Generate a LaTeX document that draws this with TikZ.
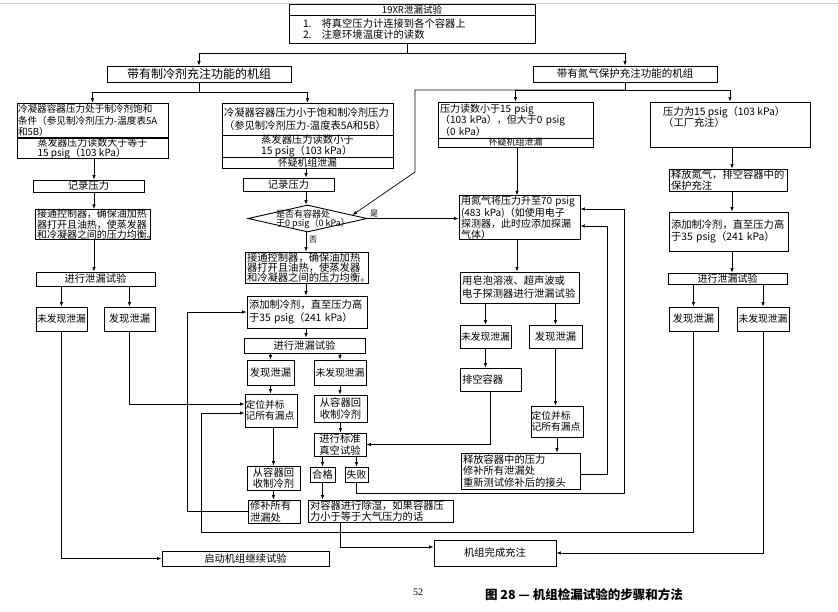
\documentclass[tikz,border=0pt]{standalone}
\usepackage{fontspec}
\setmainfont{Noto Sans CJK SC}
\newfontfamily\serifnum{Liberation Serif}
\usetikzlibrary{arrows.meta,shapes.geometric,calc}
\begin{document}
\begin{tikzpicture}[x=1pt,y=-1pt,
 bx/.style={draw, line width=0.9pt, inner xsep=2pt, inner ysep=0pt, align=center, font={\fontsize{10.3}{11.3}\selectfont}},
 lb/.style={bx, align=left},
 sm/.style={inner xsep=0.5pt, font={\fontsize{9.8}{11}\selectfont}},
 arr/.style={line width=0.7pt, -{Latex[length=4.5pt,width=3.5pt]}},
 ln/.style={line width=0.7pt},
 lab/.style={inner sep=0pt, font={\fontsize{8}{8}\selectfont}}]
\fill[white] (0,0) rectangle (838,611);
\useasboundingbox (0,0) rectangle (838,611);
\draw[gray!35, line width=0.6pt] (0,3) -- (838,3);

% chain x positions
\coordinate (cl) at (94,0);
\coordinate (cx) at (306,0);
\coordinate (cr) at (517,0);
\coordinate (cq) at (732,0);

% top
\node[bx, minimum width=246pt, minimum height=11pt, font={\fontsize{9.5}{10}\selectfont}] (T0) at (412,9.5) {19XR泄漏试验};
\node[lb, minimum width=246pt, minimum height=28pt, text width=242pt] (T1) at (412,29) {\hspace{12pt}1.\hspace{10pt}将真空压力计连接到各个容器上\\\hspace{12pt}2.\hspace{10pt}注意环境温度计的读数};
\node[bx, minimum width=184pt, minimum height=16pt, font={\fontsize{12}{12}\selectfont}] (A) at (199,74) {带有制冷剂充注功能的机组};
\node[bx, minimum width=184pt, minimum height=16pt, font={\fontsize{10.5}{11}\selectfont}] (B) at (625,74) {带有氮气保护充注功能的机组};

% left column
\node[lb, inner xsep=1pt, minimum width=151pt, minimum height=35pt, text width=149pt, font={\fontsize{9.6}{11.3}\selectfont}] (L1a) at (92.5,120.5) {\mbox{冷凝器容器压力处于制冷剂饱和}\\\mbox{条件（参见制冷剂压力-温度表5A}\\\mbox{和5B）}};
\node[bx, align=left, minimum width=151pt, minimum height=19.5pt, font={\fontsize{10}{9.3}\selectfont}] (L1b) at (92.5,148.25) {蒸发器压力读数大于等于\\15 psig（103 kPa）};
\node[bx, minimum width=111pt, minimum height=12pt] (L2) at (88.5,186) {记录压力};
\node[lb, minimum width=115pt, minimum height=25pt, text width=111pt, font={\fontsize{10}{8.3}\selectfont}] (L3) at (92.5,224.5) {接通控制器，确保油加热\\器打开且油热，使蒸发器\\和冷凝器之间的压力均衡。};
\node[bx, minimum width=119pt, minimum height=14pt] (L4) at (95.5,279) {进行泄漏试验};
\node[bx, sm, minimum width=51pt, minimum height=24pt] (L5) at (61.5,319) {未发现泄漏};
\node[bx, minimum width=51pt, minimum height=24pt] (L6) at (129.5,319) {发现泄漏};
\node[bx, minimum width=167pt, minimum height=15pt] (S) at (245.5,558.5) {启动机组继续试验};

% middle column
\node[lb, minimum width=171pt, minimum height=32pt, text width=167pt, font={\fontsize{10.3}{13.5}\selectfont}] (M1a) at (307.5,119) {冷凝器容器压力小于饱和制冷剂压力\\（参见制冷剂压力-温度表5A和5B）};
\node[bx, align=left, minimum width=171pt, minimum height=22pt, font={\fontsize{10.3}{10.5}\selectfont}] (M1b) at (307.5,146) {蒸发器压力读数小于\\15 psig（103 kPa）};
\node[bx, minimum width=171pt, minimum height=11pt, font={\fontsize{9.8}{10}\selectfont}] (M1c) at (307.5,162.5) {怀疑机组泄漏};
\node[bx, minimum width=91pt, minimum height=13pt] (M2) at (288.5,184.5) {记录压力};
\node[draw, line width=0.9pt, shape=diamond, inner sep=0pt, minimum width=119pt, minimum height=27pt] (D) at (307.5,218.5) {};
\node[align=left, inner sep=0pt, font={\fontsize{9}{9}\selectfont}] (dt) at (313,219) {是否有容器处\\于0 psig（0 kPa）};
\node[lab] (yes) at (374,214) {是};
\node[lab, anchor=west] (no) at (309,240) {否};
\node[lb, minimum width=123pt, minimum height=31pt, text width=119pt, font={\fontsize{10.3}{10.3}\selectfont}] (M3) at (306.5,267.5) {接通控制器，确保油加热\\器打开且油热，使蒸发器\\和冷凝器之间的压力均衡。};
\node[lb, minimum width=120pt, minimum height=32pt, text width=116pt, font={\fontsize{10.3}{12.5}\selectfont}] (M4) at (307,312) {添加制冷剂，直至压力高\\于35 psig（241 kPa）};
\node[bx, minimum width=121pt, minimum height=15pt] (M5) at (304.5,345.5) {进行泄漏试验};
\node[bx, minimum width=47pt, minimum height=25pt] (M6) at (270.5,372.5) {发现泄漏};
\node[bx, sm, minimum width=52pt, minimum height=25pt] (M7) at (340,372.5) {未发现泄漏};
\node[lb, sm, minimum width=52pt, minimum height=33pt, text width=51pt] (M8) at (271,410.5) {定位并标\\记所有漏点};
\node[bx, minimum width=53pt, minimum height=27pt] (M9) at (340.5,408.5) {从容器回\\收制冷剂};
\node[bx, minimum width=52pt, minimum height=23pt] (M10) at (340,444.5) {进行标准\\真空试验};
\node[bx, minimum width=53pt, minimum height=24pt] (M11) at (273.5,478) {从容器回\\收制冷剂};
\node[lb, minimum width=52pt, minimum height=23pt, text width=48pt] (M12) at (274,511.5) {修补所有\\泄漏处};
\node[bx, inner xsep=1pt, minimum width=25pt, minimum height=15pt] (M13) at (322.5,474.5) {合格};
\node[bx, inner xsep=1pt, minimum width=23pt, minimum height=15pt, font={\fontsize{9.8}{10}\selectfont}] (M14) at (356.5,474.5) {失败};
\node[lb, minimum width=145pt, minimum height=22pt, text width=141pt, font={\fontsize{10.3}{10.3}\selectfont}] (M15) at (380.5,511) {对容器进行除湿，如果容器压\\力小于等于大气压力的话};
\node[bx, minimum width=122pt, minimum height=26pt] (F) at (495,553) {机组完成充注};

% right-middle column
\node[lb, minimum width=155pt, minimum height=36pt, text width=151pt, font={\fontsize{10}{11.3}\selectfont}] (R1a) at (515.5,120) {压力读数小于15 psig\\（103 kPa），但大于0 psig\\（0 kPa）};
\node[bx, minimum width=155pt, minimum height=9pt, font={\fontsize{9}{9}\selectfont}] (R1b) at (515.5,142.5) {怀疑机组泄漏};
\node[lb, minimum width=121pt, minimum height=37pt, text width=117pt, font={\fontsize{10}{8.9}\selectfont}] (R2) at (519.5,217.5) {用氮气将压力升至70 psig\\(483 kPa)（如使用电子\\探测器，此时应添加探漏\\气体）};
\node[lb, minimum width=119pt, minimum height=31pt, text width=115pt, font={\fontsize{10.3}{13}\selectfont}] (R3) at (519.5,287.5) {用皂泡溶液、超声波或\\电子探测器进行泄漏试验};
\node[bx, sm, minimum width=51pt, minimum height=23pt] (R4) at (485.5,336.5) {未发现泄漏};
\node[bx, minimum width=53pt, minimum height=23pt] (R5) at (555.5,336.5) {发现泄漏};
\node[lb, minimum width=61pt, minimum height=23pt, text width=57pt] (R6) at (490.5,379.5) {排空容器};
\node[lb, sm, minimum width=52pt, minimum height=31pt, text width=51pt] (R7) at (557,421.5) {定位并标\\记所有漏点};
\node[lb, minimum width=119pt, minimum height=36pt, text width=115pt, font={\fontsize{10.3}{11.3}\selectfont}] (R8) at (520.5,471) {释放容器中的压力\\修补所有泄漏处\\重新测试修补后的接头};

% right column
\node[draw, line width=0.9pt, inner sep=0pt, minimum width=160pt, minimum height=45pt] (Q1) at (730,124.5) {};
\node[anchor=north west, align=left, inner sep=0pt, font={\fontsize{10.3}{11.5}\selectfont}] (Q1t) at (663,106) {压力为15 psig（103 kPa）\\（工厂充注）};
\node[lb, minimum width=118pt, minimum height=22pt, text width=114pt, font={\fontsize{10.3}{11}\selectfont}] (Q2) at (728,180) {释放氮气，排空容器中的\\保护充注};
\node[lb, minimum width=119pt, minimum height=39pt, text width=115pt, font={\fontsize{10.3}{12}\selectfont}] (Q3) at (728.5,231.5) {添加制冷剂，直至压力高\\于35 psig（241 kPa）};
\node[bx, minimum width=119pt, minimum height=11pt, font={\fontsize{10}{10}\selectfont}] (Q4) at (727.5,278.5) {进行泄漏试验};
\node[bx, minimum width=49pt, minimum height=24pt] (Q5) at (693.5,319) {发现泄漏};
\node[bx, sm, minimum width=52pt, minimum height=24pt] (Q6) at (763,319) {未发现泄漏};

% caption
\node[inner sep=0pt, font={\serifnum\fontsize{10}{10}\selectfont}] (pg) at (418,592) {52};
\node[inner sep=0pt, font={\bfseries\fontsize{12.5}{13}\selectfont}] (cap) at (584,595) {图 28 — 机组检漏试验的步骤和方法};

% junction coordinates
\coordinate (j0) at (407,53);
\coordinate (j1) at (199,92);
\coordinate (j2) at (625,90);
\coordinate (k1) at (415,172);
\coordinate (k2) at (201,532);
\coordinate (k3) at (624,493);
\coordinate (k4) at (187,312);
\coordinate (dtip) at ($(D.north)!0.75!(D.east)$);

% top connectors
\draw[ln] (j0 |- T1.south) -- (j0);
\draw[arr] (j0) -| (A.north);
\draw[arr] (j0) -| (B.north);
\draw[ln] (A.south) -- (j1);
\draw[arr] (j1) -| (L1a.north);
\draw[arr] (j1) -| (M1a.north);
\draw[ln] (B.south) -- (j2);
\draw[arr] (j2) -| (R1a.north);
\draw[arr] (j2) -| (Q1.north);
\draw[arr] (j2) -| (k1) -- (dtip);

% left column
\draw[arr] (L1b.south -| cl) -- (L2.north -| cl);
\draw[arr] (L2.south -| cl) -- (L3.north -| cl);
\draw[arr] (L3.south -| cl) -- (L4.north -| cl);
\draw[arr] (L5.north |- L4.south) -- (L5.north);
\draw[arr] (L6.north |- L4.south) -- (L6.north);
\draw[arr] (L5.south) |- (S.west);
\draw[arr] (L6.south) |- ([yshift=6.5pt]M8.west);

% middle column
\draw[arr] (M1c.south -| cx) -- (M2.north -| cx);
\draw[arr] (M2.south -| cx) -- (D.north -| cx);
\draw[arr] (D.south -| cx) -- (M3.north -| cx);
\draw[arr] (M3.south -| cx) -- (M4.north -| cx);
\draw[arr] (M4.south -| cx) -- (M5.north -| cx);
\draw[arr] (D.east) -- (D.east -| R2.west);
\draw[arr] (M6.north |- M5.south) -- (M6.north);
\draw[arr] (M7.north |- M5.south) -- (M7.north);
\draw[arr] (M6.south) -- (M6.south |- M8.north);
\draw[arr] (M7.south) -- (M7.south |- M9.north);
\draw[arr] (M9.south) -- (M9.south |- M10.north);
\draw[arr] (M11.north |- M8.south) -- (M11.north);
\draw[arr] (M11.south) -- (M11.south |- M12.north);
\draw[arr] (M13.north |- M10.south) -- (M13.north);
\draw[arr] (M14.north |- M10.south) -- (M14.north);
\draw[arr] (M13.south) -- (M13.south |- M15.north);
\draw[arr] ([xshift=-40.5pt]M15.south) |- ([yshift=6pt]F.west);
\draw[arr] (M12.west) -| (k4) -- (M4.west);
\draw[arr] (M14.south) |- (k3) |- ([yshift=8.5pt]R2.east);

% right-middle column
\draw[arr] (R1b.south -| cr) -- (R2.north -| cr);
\draw[arr] (R2.south -| cr) -- (R3.north -| cr);
\draw[arr] (R4.north |- R3.south) -- (R4.north);
\draw[arr] (R5.north |- R3.south) -- (R5.north);
\draw[arr] (R4.south) -- (R4.south |- R6.north);
\draw[arr] (R5.south) -- (R5.south |- R7.north);
\draw[arr] (R7.south) -- (R7.south |- R8.north);
\draw[arr] (R6.south) |- (M10.east);
\draw[arr] ([yshift=-3pt]R8.east) -- ++(27,0) |- ([yshift=-8.5pt]R2.east);

% right column
\draw[arr] (Q1.south -| cq) -- (Q2.north -| cq);
\draw[arr] (Q2.south -| cq) -- (Q3.north -| cq);
\draw[arr] (Q3.south -| cq) -- (Q4.north -| cq);
\draw[arr] (Q5.north |- Q4.south) -- (Q5.north);
\draw[arr] (Q6.north |- Q4.south) -- (Q6.north);
\draw[arr] (Q5.south) |- (k2) |- ([yshift=-2.5pt]M8.west);
\draw[arr] (Q6.south) |- (F.east);
\end{tikzpicture}
\end{document}
